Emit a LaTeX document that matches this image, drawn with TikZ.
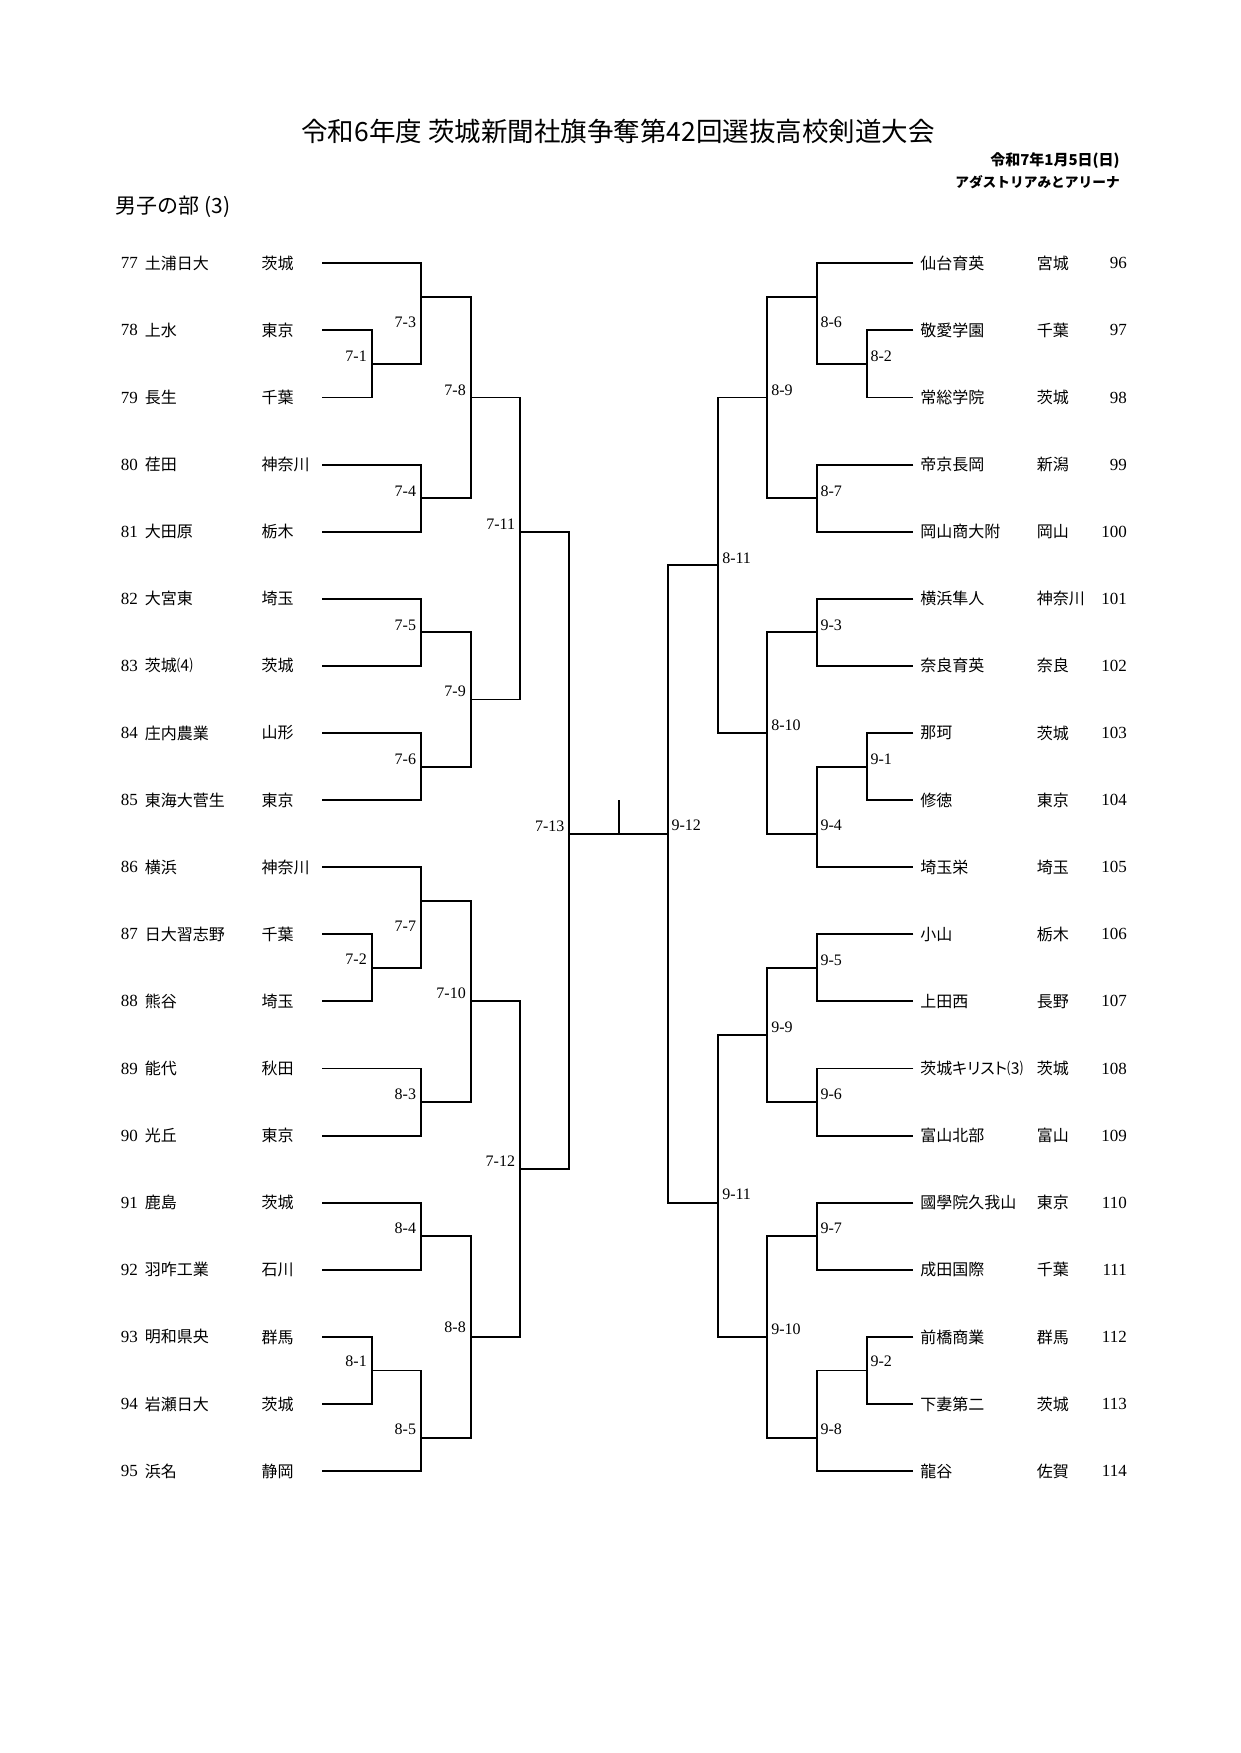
\documentclass[tikz,border=0pt]{standalone}
\usepackage{fontspec}
\setmainfont{Liberation Serif}
\newfontfamily\jp{Noto Sans CJK JP}
\begin{document}
\begin{tikzpicture}[x=1pt,y=-67.1pt,line width=1.9pt,
  team/.style={anchor=west,inner sep=0pt,font=\jp\fontsize{16}{18}\selectfont},
  num/.style={inner sep=0pt,font=\fontsize{17}{19}\selectfont},
  game/.style={inner sep=0pt,font=\fontsize{16}{18}\selectfont}]
  \useasboundingbox (0,-3.924) rectangle (1240,22.201);

  % header
  \node[font=\jp\fontsize{26.5}{28}\selectfont] (title) at (618,-1.961) {令和6年度 茨城新聞社旗争奪第42回選抜高校剣道大会};
  \node[anchor=east,font=\jp\bfseries\fontsize{15}{17}\selectfont] (date) at (1124,-1.532) {令和7年1月5日(日)};
  \node[anchor=east,font=\jp\bfseries\fontsize{13.7}{15}\selectfont] (venue) at (1124,-1.216) {アダストリアみとアリーナ};
  \node[anchor=west,font=\jp\fontsize{21}{23}\selectfont] (part) at (111.7,-0.844) {男子の部 (3)};

  % left teams
  \foreach \n/\s/\p [count=\i from 0] in {77/土浦日大/茨城, 78/上水/東京, 79/長生/千葉,
      80/荏田/神奈川, 81/大田原/栃木, 82/大宮東/埼玉, 83/茨城⑷/茨城, 84/庄内農業/山形,
      85/東海大菅生/東京, 86/横浜/神奈川, 87/日大習志野/千葉, 88/熊谷/埼玉, 89/能代/秋田,
      90/光丘/東京, 91/鹿島/茨城, 92/羽咋工業/石川, 93/明和県央/群馬, 94/岩瀬日大/茨城,
      95/浜名/静岡} {
    \node[num,anchor=west] (n\n) at (120,\i) {\n};
    \node[team] (s\n) at (144,\i) {\s};
    \node[team] (p\n) at (260.7,\i) {\p};
  }

  % right teams
  \foreach \n/\s/\p [count=\i from 0] in {96/仙台育英/宮城, 97/敬愛学園/千葉, 98/常総学院/茨城,
      99/帝京長岡/新潟, 100/岡山商大附/岡山, 101/横浜隼人/神奈川, 102/奈良育英/奈良, 103/那珂/茨城,
      104/修徳/東京, 105/埼玉栄/埼玉, 106/小山/栃木, 107/上田西/長野,
      108/{\addfontfeatures{RawFeature=+palt}茨城キリスト⑶}/茨城,
      109/富山北部/富山, 110/國學院久我山/東京, 111/成田国際/千葉, 112/前橋商業/群馬,
      113/下妻第二/茨城, 114/龍谷/佐賀} {
    \node[team] (s\n) at (919.3,\i) {\s};
    \node[team] (p\n) at (1036,\i) {\p};
    \node[num,anchor=east] (n\n) at (1127.7,\i) {\n};
  }

  % left bracket: top start/top row/vertical/bottom row/bottom start/label row/label
  \foreach \a/\ya/\v/\yb/\b/\yl/\g in {
      322.3/1/371.7/2/322.3/1.39/7-1, 322.3/0/421/1.5/371.7/0.875/7-3,
      322.3/3/421/4/322.3/3.39/7-4, 421/0.5/470.7/3.5/421/1.89/7-8,
      322.3/5/421/6/322.3/5.39/7-5, 322.3/7/421/8/322.3/7.39/7-6,
      421/5.5/470.7/7.5/421/6.38/7-9, 470.7/2/520/6.5/470.7/3.89/7-11,
      322.3/10/371.7/11/322.3/10.37/7-2, 322.3/9/421/10.5/371.7/9.88/7-7,
      322.3/12/421/13/322.3/12.38/8-3, 421/9.5/470.7/12.5/421/10.88/7-10,
      322.3/14/421/15/322.3/14.38/8-4, 322.3/16/371.7/17/322.3/16.37/8-1,
      371.7/16.5/421/18/322.3/17.37/8-5, 421/14.5/470.7/17.5/421/15.86/8-8,
      470.7/11/520/16/470.7/13.38/7-12, 520/4/569.3/13.5/520/8.386/7-13} {
    \draw (\a,\ya) -| (\v,\yb) -- (\b,\yb);
    \node[game,anchor=east] (m\g) at (\v-4,\yl) {\g};
  }

  % right bracket
  \foreach \a/\ya/\v/\yb/\b/\yl/\g in {
      913.3/0/816.7/1.5/866.7/0.88/8-6, 913.3/1/866.7/2/913.3/1.39/8-2,
      913.3/3/816.7/4/913.3/3.39/8-7, 816.7/0.5/767.3/3.5/816.7/1.89/8-9,
      913.3/5/816.7/6/913.3/5.39/9-3, 913.3/7/866.7/8/913.3/7.39/9-1,
      866.7/7.5/816.7/9/913.3/8.38/9-4, 816.7/5.5/767.3/8.5/816.7/6.88/8-10,
      767.3/2/718.3/7/767.3/4.4/8-11, 913.3/10/816.7/11/913.3/10.38/9-5,
      913.3/12/816.7/13/913.3/12.38/9-6, 816.7/10.5/767.3/12.5/816.7/11.38/9-9,
      913.3/14/816.7/15/913.3/14.38/9-7, 913.3/16/866.7/17/913.3/16.37/9-2,
      866.7/16.5/816.7/18/913.3/17.38/9-8, 816.7/14.5/767.3/17.5/816.7/15.88/9-10,
      767.3/11.5/718.3/16/767.3/13.87/9-11, 718.3/4.5/667.7/14/718.3/8.38/9-12} {
    \draw (\a,\ya) -| (\v,\yb) -- (\b,\yb);
    \node[game,anchor=west] (m\g) at (\v+3,\yl) {\g};
  }

  % final
  \draw (569.3,8.5) -- (667.7,8.5);
  \draw (619,8) -- (619,8.5);
\end{tikzpicture}
\end{document}
